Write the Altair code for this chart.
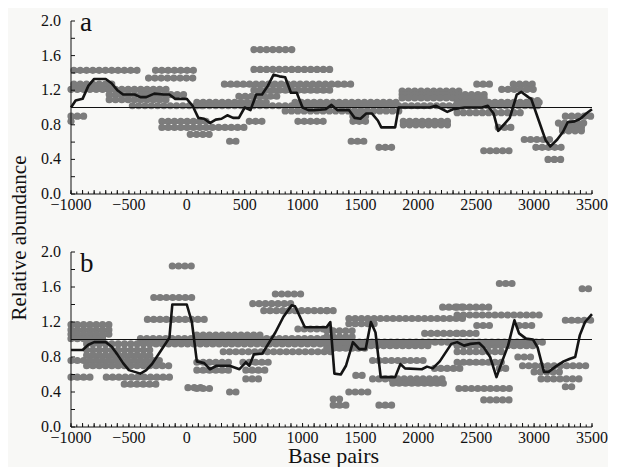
import altair as alt
import pandas as pd

# ---------------- Panel a : dot rows (start bp, end bp, relative abundance)
A_X0 = [-975, -270, -330, -975, -1000, -670, -670, -355, -670, -470, -1000, -1000,
        -215, 540, -215, 30, 370, 580, 580, 325, 580, 450, 87, 87, 850, 960, 935,
        1435, 1435, 1870, 1870, 1420, 1660, 1860, 1860, 1860, 2505, 2820, 2720,
        2335, 2335, 3270, 3210, 2690, 3245, 3245, 2915, 3015, 2565, 3120, 2975]
A_X1 = [-425, 70, 95, -610, -660, -125, -290, -15, -125, 155, -840, -960,
        200, 665, 510, 215, 470, 960, 1275, 1420, 1275, 800, 700, 3080, 1860, 1215, 1860,
        1575, 1575, 2285, 2285, 1565, 1820, 2395, 2620, 2620, 2660, 3015, 3015,
        3080, 2900, 3510, 3460, 2800, 3460, 3440, 3185, 3255, 2800, 3255, 3060]
A_Y = [1.43, 1.43, 1.34, 1.27, 1.21, 1.21, 1.15, 1.15, 1.09, 1.02, 0.90, 0.84,
       0.84, 0.84, 0.77, 0.69, 0.61, 1.67, 1.44, 1.27, 1.20, 1.13, 1.06, 1.02, 0.96, 0.84, 1.06,
       0.90, 0.84, 0.84, 0.80, 0.61, 0.54, 1.19, 1.15, 1.11, 1.27, 1.27, 1.21,
       1.06, 0.94, 0.90, 0.82, 0.77, 0.77, 0.73, 0.63, 0.54, 0.50, 0.40, 1.08]

# Panel a : running mean line
A_LX = [-1000, -960, -900, -850, -800, -700, -650, -600, -550, -450, -400, -350, -280,
        -200, -150, -100, -50, 0, 50, 100, 150, 200, 250, 300, 350, 400, 450, 500, 550,
        600, 650, 700, 750, 800, 850, 900, 950, 1000, 1050, 1100, 1200, 1250, 1300, 1400,
        1450, 1500, 1550, 1600, 1650, 1680, 1800, 1830, 2100, 2150, 2250, 2300, 2400,
        2550, 2600, 2650, 2690, 2750, 2790, 2850, 2890, 2950, 2975, 3040, 3100, 3140,
        3200, 3250, 3290, 3350, 3400, 3450, 3500]
A_LY = [1.00, 1.08, 1.10, 1.25, 1.33, 1.33, 1.28, 1.20, 1.15, 1.15, 1.12, 1.12, 1.16,
        1.15, 1.15, 1.10, 1.10, 1.10, 1.02, 0.88, 0.87, 0.82, 0.86, 0.87, 0.91, 0.88, 0.88,
        1.00, 0.97, 1.15, 1.15, 1.25, 1.38, 1.36, 1.35, 1.17, 1.17, 1.00, 0.97, 0.97, 0.98,
        1.03, 0.97, 0.97, 0.88, 0.87, 0.93, 0.93, 0.85, 0.77, 0.77, 1.00, 1.00, 1.02, 0.95,
        0.98, 1.00, 1.00, 1.02, 0.93, 0.73, 0.82, 0.88, 1.15, 1.18, 1.12, 1.10, 0.85, 0.62,
        0.55, 0.63, 0.72, 0.83, 0.84, 0.87, 0.93, 0.98]

# ---------------- Panel b : dot rows
B_X0 = [-125, -285, -340, -1000, -1000, -1000, -1000, -400, -865, -865, -865, -1000,
        -865, -1000, -695, -540, 10, 765, 570, 665, 960, 87, 315, 87, 485, 87, 510, 510,
        87, 370, 2210, 1210, 1400, 1400, 1210, 2055, 1210, 1210, 1210, 1605, 2140, 1460,
        1605, 1780, 1400, 1265, 1265, 1660, 2700, 3415, 2335, 2335, 3270, 2505, 2870,
        2335, 2335, 2335, 2860, 2335, 2900, 2700, 3000, 3060, 3270, 2350, 2565, 1000]
B_X1 = [70, 55, 155, -630, -630, -630, -690, 1275, 1275, -270, -270, -185,
        -125, -800, -125, -225, 155, 1005, 935, 1260, 1250, 680, 1275, 400, 705, 400, 705, 665,
        200, 455, 2395, 1265, 2395, 1630, 1460, 2395, 1430, 2115, 1580, 2055, 2395, 1565,
        2250, 2250, 1565, 1360, 1400, 1800, 2860, 3510, 2610, 3060, 3500, 2650, 3015,
        2530, 3000, 2760, 3015, 2760, 3460, 2800, 3270, 3415, 3355, 2800, 2800, 3100]
B_Y = [1.84, 1.48, 1.23, 1.17, 1.11, 1.06, 1.01, 1.01, 0.95, 0.88, 0.82, 0.76,
       0.70, 0.57, 0.57, 0.49, 0.45, 1.52, 1.41, 1.33, 1.12, 1.05, 0.86, 0.74, 0.74, 0.65, 0.65, 0.55,
       0.44, 0.40, 1.37, 1.33, 1.24, 1.18, 1.10, 1.07, 1.03, 0.93, 0.90, 0.76, 0.67, 0.59,
       0.55, 0.50, 0.40, 0.32, 0.25, 0.25, 1.64, 1.58, 1.37, 1.28, 1.22, 1.16, 1.16,
       1.07, 0.93, 0.86, 0.80, 0.74, 0.70, 0.67, 0.63, 0.55, 0.46, 0.44, 0.31, 0.97]

# Panel b : running mean line
B_LX = [-1000, -900, -850, -800, -700, -650, -600, -550, -500, -450, -400, -350, -300,
        -250, -200, -150, -125, -50, 0, 44, 87, 150, 200, 257, 300, 370, 455, 510, 540,
        580, 653, 765, 835, 906, 935, 1020, 1207, 1235, 1240, 1275, 1330, 1375, 1435,
        1490, 1545, 1590, 1630, 1675, 1800, 1845, 1885, 2030, 2075, 2125, 2185, 2285,
        2335, 2395, 2450, 2525, 2565, 2620, 2675, 2735, 2775, 2830, 2870, 2930, 2990,
        3030, 3085, 3125, 3185, 3255, 3310, 3355, 3395, 3440, 3500]
B_LY = [0.88, 0.88, 0.94, 0.97, 0.97, 0.92, 0.83, 0.73, 0.65, 0.63, 0.61, 0.65, 0.72,
        0.82, 0.92, 1.02, 1.40, 1.40, 1.40, 1.20, 0.75, 0.73, 0.66, 0.70, 0.70, 0.70, 0.66,
        0.74, 0.70, 0.83, 0.84, 1.08, 1.26, 1.39, 1.38, 1.14, 1.14, 1.19, 1.20, 0.61, 0.60,
        0.70, 0.97, 0.89, 0.89, 1.20, 1.08, 0.57, 0.57, 0.72, 0.67, 0.66, 0.69, 0.67, 0.75,
        0.95, 0.97, 0.93, 0.95, 0.96, 0.91, 0.80, 0.57, 0.79, 0.93, 1.22, 1.07, 1.01, 1.00,
        0.91, 0.63, 0.63, 0.69, 0.75, 0.78, 0.80, 1.05, 1.20, 1.29]

# Axis tick values and labels
X_LABEL_VALUES = [-1000, -500, 0, 500, 1000, 1500, 2000, 2500, 3000, 3500]
X_LABEL_TEXT = ["\u22121000", "\u2212500", "0", "500", "1000", "1500", "2000", "2500",
                "3000", "3500"]
Y_LABEL_VALUES = [0.0, 0.4, 0.8, 1.2, 1.6, 2.0]
Y_LABEL_TEXT = ["0.0", "0.4", "0.8", "1.2", "1.6", "2.0"]
Y_TICKS = [0.0, 0.2, 0.4, 0.6, 0.8, 1.0, 1.2, 1.4, 1.6, 1.8, 2.0]
X_MINOR = list(range(-1000, 3501, 50))
X_MAJOR = list(range(-1000, 3501, 100))
X_DOMAIN = [-1000, 3500]
Y_DOMAIN = [0.0, 2.0]

FONT = "Liberation Serif"
INK = "#111111"
DOT = "#7c7c7c"
W = 521


def panel(x0, x1, yv, lx, ly, label, label_dy, h, xtitle):
    xs = alt.Scale(domain=X_DOMAIN, nice=False, zero=False)
    ys = alt.Scale(domain=Y_DOMAIN, nice=False)

    rows = pd.DataFrame({"x0": x0, "x1": x1, "y": yv})
    dots = alt.Chart(rows).mark_rule(
        color=DOT, strokeWidth=7.2, strokeCap="round", strokeDash=[0.01, 6.3]
    ).encode(
        x=alt.X("x0:Q", scale=xs, axis=None),
        x2="x1:Q",
        y=alt.Y("y:Q", scale=ys, axis=None),
    )
    ref = alt.Chart(pd.DataFrame({"rx0": [X_DOMAIN[0]], "rx1": [X_DOMAIN[1]], "ry": [1.0]})).mark_rule(
        color=INK, strokeWidth=1
    ).encode(x=alt.X("rx0:Q", scale=xs, axis=None), x2="rx1:Q",
             y=alt.Y("ry:Q", scale=ys, axis=None))
    line = alt.Chart(pd.DataFrame({"x": lx, "y": ly})).mark_line(
        color="#141414", strokeWidth=2.6, strokeJoin="round"
    ).encode(x=alt.X("x:Q", scale=xs, axis=None), y=alt.Y("y:Q", scale=ys, axis=None))

    # axis lines
    xdom = alt.Chart(pd.DataFrame({"a": [X_DOMAIN[0]], "b": [X_DOMAIN[1]], "y": [0.0]})).mark_rule(
        color=INK, strokeWidth=1
    ).encode(x=alt.X("a:Q", scale=xs, axis=None), x2="b:Q", y=alt.Y("y:Q", scale=ys, axis=None))
    ydom = alt.Chart(pd.DataFrame({"x": [X_DOMAIN[0]], "a": [Y_DOMAIN[0]], "b": [Y_DOMAIN[1]]})).mark_rule(
        color=INK, strokeWidth=1
    ).encode(x=alt.X("x:Q", scale=xs, axis=None), y=alt.Y("a:Q", scale=ys, axis=None), y2="b:Q")

    # inward ticks
    yt = alt.Chart(pd.DataFrame({"t": Y_TICKS})).mark_rule(color=INK, strokeWidth=1).encode(
        y=alt.Y("t:Q", scale=ys, axis=None), x=alt.value(0), x2=alt.value(4))
    xmin = alt.Chart(pd.DataFrame({"t": X_MINOR})).mark_rule(color=INK, strokeWidth=1).encode(
        x=alt.X("t:Q", scale=xs, axis=None), y=alt.value(h), y2=alt.value(h - 2.5))
    xmaj = alt.Chart(pd.DataFrame({"t": X_MAJOR})).mark_rule(color=INK, strokeWidth=1).encode(
        x=alt.X("t:Q", scale=xs, axis=None), y=alt.value(h), y2=alt.value(h - 4))

    # tick labels
    ylab = alt.Chart(pd.DataFrame({"v": Y_LABEL_VALUES, "s": Y_LABEL_TEXT})).mark_text(
        font=FONT, fontSize=16, color=INK, align="right", baseline="middle"
    ).encode(y=alt.Y("v:Q", scale=ys, axis=None), x=alt.value(-10), text="s:N")
    xlab = alt.Chart(pd.DataFrame({"v": X_LABEL_VALUES, "s": X_LABEL_TEXT})).mark_text(
        font=FONT, fontSize=16, color=INK, align="center", baseline="top"
    ).encode(x=alt.X("v:Q", scale=xs, axis=None), y=alt.value(h + 3), text="s:N")

    lab = alt.Chart(pd.DataFrame({"l": [label]})).mark_text(
        font=FONT, fontSize=27, color=INK, align="left", baseline="top"
    ).encode(text="l:N", x=alt.value(9), y=alt.value(label_dy))

    layers = [dots, ref, line, xdom, ydom, yt, xmin, xmaj, ylab, xlab, lab]
    if xtitle:
        layers.append(alt.Chart(pd.DataFrame({"l": [xtitle]})).mark_text(
            font=FONT, fontSize=22, color=INK, align="center", baseline="top"
        ).encode(text="l:N", x=alt.value(W / 2 + 2), y=alt.value(h + 19)))
    return alt.layer(*layers).properties(width=W, height=h)


pa = panel(A_X0, A_X1, A_Y, A_LX, A_LY, "a", -11, 173, None)
pb = panel(B_X0, B_X1, B_Y, B_LX, B_LY, "b", -1, 175, "Base pairs")

chart = alt.vconcat(pa, pb, spacing=31).properties(
    title=alt.TitleParams("Relative abundance", orient="left", anchor="middle",
                          font=FONT, fontSize=21, fontWeight="normal", color=INK,
                          offset=11),
    background="#f8f8f6",
    padding={"left": 0, "top": 1, "right": 0, "bottom": 0},
).configure_view(stroke=None)

chart.save("out.html", embed_options={"renderer": "svg", "actions": False})
